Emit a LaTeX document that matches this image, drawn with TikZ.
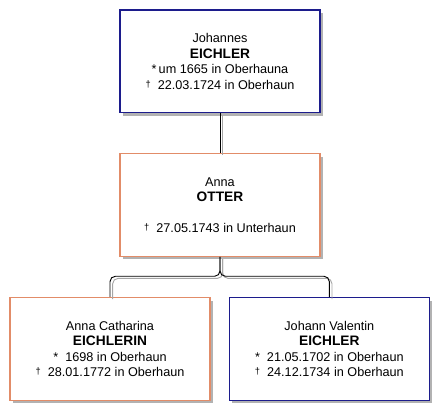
\documentclass[tikz,border=0pt]{standalone}
\usepackage{fontspec}
\setmainfont{Liberation Sans}
\usepackage{xcolor}
\usetikzlibrary{positioning,calc}
\definecolor{manblue}{RGB}{28,28,140}
\definecolor{womanorange}{RGB}{226,140,104}
\newcommand{\surname}[1]{{\fontsize{10.3}{11.6}\selectfont\bfseries #1}}
\newcommand{\born}{*}
\newcommand{\died}{{\scriptsize\raisebox{0.35ex}{†}}}

\begin{document}
\begin{tikzpicture}[every node/.style={font=\fontsize{9.5}{11.6}\selectfont}, node distance=30pt,
  person/.style={draw, fill=white, line width=0.8pt, minimum width=150pt, minimum height=77pt, inner sep=0pt, align=center,
    preaction={fill=black!30, transform canvas={xshift=2.3pt, yshift=-2.3pt}}},
  man/.style={person, draw=manblue},
  woman/.style={person, draw=womanorange},
  link/.style={draw=black, line width=0.7pt, rounded corners=4pt,
    preaction={draw=black!35, line width=0.7pt, transform canvas={xshift=2pt, yshift=-1.6pt}}}]
\useasboundingbox (0,0) rectangle (336pt,-312pt);
\node[man] (johannes) at (165pt,-46pt) {Johannes\\\surname{EICHLER}\\\born\,um 1665 in Oberhauna\\\died\ \ 22.03.1724 in Oberhaun};
\node[woman, below=of johannes] (anna) {Anna\\\surname{OTTER}\\[11.6pt]\died\ \ 27.05.1743 in Unterhaun};
\node[woman, below=of anna, xshift=-82.5pt] (catharina) {Anna Catharina\\\surname{EICHLERIN}\\\born\ \ 1698 in Oberhaun\\\died\ \ 28.01.1772 in Oberhaun};
\node[man, below=of anna, xshift=82pt] (valentin) {Johann Valentin\\\surname{EICHLER}\\\born\ \ 21.05.1702 in Oberhaun\\\died\ \ 24.12.1734 in Oberhaun};
% connectors
\coordinate (fork) at ($(anna.south)+(0,-14.5pt)$);
\path[link] (johannes) -- (anna);
\path[link] (anna) -- (fork) -| (catharina);
\path[link] (anna) -- (fork) -| (valentin);
\end{tikzpicture}
\end{document}
